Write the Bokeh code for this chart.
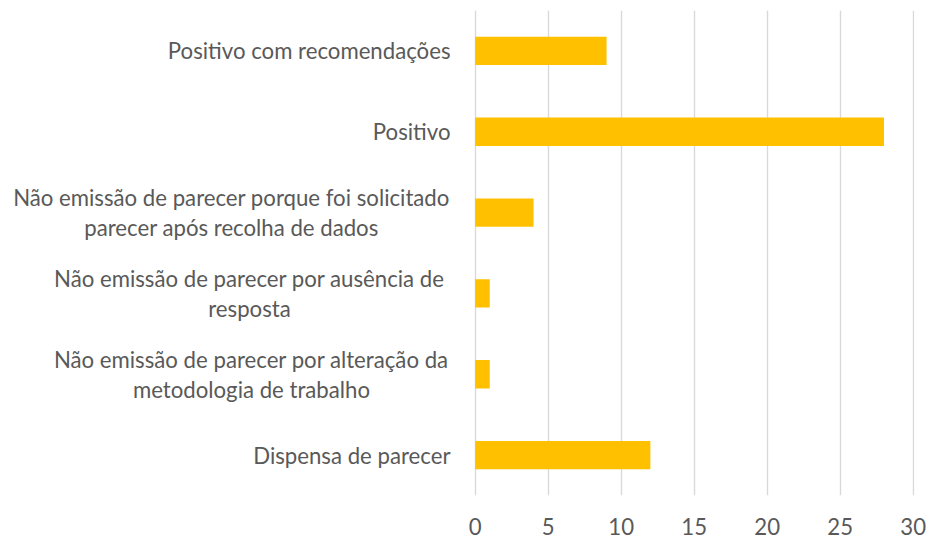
from bokeh.plotting import figure
from bokeh.models import FactorRange, Range1d, FixedTicker, LabelSet, ColumnDataSource
from bokeh.core.properties import value
from bokeh.embed import file_html
from bokeh.resources import INLINE

# ---- data (top to bottom as shown) ----
categories = [
    "Positivo com recomendações",
    "Positivo",
    "Não emissão de parecer porque foi solicitado\nparecer após recolha de dados",
    "Não emissão de parecer por ausência de\nresposta",
    "Não emissão de parecer por alteração da\nmetodologia de trabalho",
    "Dispensa de parecer",
]
values = [9, 28, 4, 1, 1, 12]
x_ticks = [0, 5, 10, 15, 20, 25, 30]

# ---- label layout: x in px from the frame's left edge ----
label_x = [450, 450, 231, 249, 251, 450]
label_align = ["right", "right", "center", "center", "center", "right"]
LINE_GAP = 30  # px between the lines of a wrapped label

FONT = "Lato"
FSIZE = "22.2px"
TXT = "#595959"
BAR = "#FFC000"
GRID = "#D9D9D9"

src = ColumnDataSource(dict(cat=categories, val=values))

# one row per text line, centred on its category
rows = dict(cat=[], line=[], lx=[], al=[], yo=[])
for c, lx, al in zip(categories, label_x, label_align):
    parts = c.split("\n")
    n = len(parts)
    for i, t in enumerate(parts):
        rows["cat"].append(c)
        rows["line"].append(t)
        rows["lx"].append(lx)
        rows["al"].append(al)
        rows["yo"].append(((n - 1) / 2 - i) * LINE_GAP)
lsrc = ColumnDataSource(rows)

p = figure(
    width=928, height=547,
    y_range=FactorRange(factors=list(reversed(categories)), range_padding=0),
    x_range=Range1d(-32.51, 30.09),
    output_backend="svg", toolbar_location=None,
    min_border_left=0, min_border_right=14, min_border_top=10, min_border_bottom=52,
)
p.outline_line_color = None
p.background_fill_color = "white"
p.border_fill_color = "white"

p.yaxis.visible = False
p.ygrid.visible = False

p.xaxis.ticker = FixedTicker(ticks=x_ticks)
p.xaxis.axis_line_color = None
p.xaxis.major_tick_line_color = None
p.xaxis.minor_tick_line_color = None
p.xaxis.major_tick_out = 0
p.xaxis.major_tick_in = 0
p.xaxis.minor_tick_out = 0
p.xaxis.major_label_standoff = 22
p.xaxis.major_label_text_font = FONT
p.xaxis.major_label_text_font_size = FSIZE
p.xaxis.major_label_text_color = TXT

p.xgrid.ticker = FixedTicker(ticks=x_ticks)
p.xgrid.grid_line_color = GRID
p.xgrid.grid_line_width = 1.4

p.hbar(y="cat", left=0, right="val", height=0.35, source=src,
       fill_color=BAR, line_color=None)

labels = LabelSet(
    x="lx", y="cat", text="line", source=lsrc, x_units="screen",
    y_offset="yo",
    text_align={"field": "al"}, text_baseline="middle",
    text_font=value(FONT), text_font_size=FSIZE, text_color=TXT,
)
p.add_layout(labels)

open("out.html", "w").write(file_html(p, INLINE))
